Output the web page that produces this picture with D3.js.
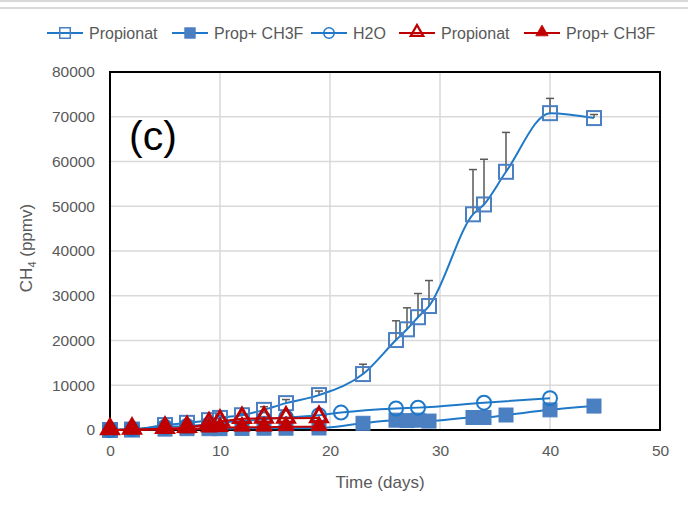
<!DOCTYPE html>
<html>
<head>
<meta charset="utf-8">
<script src="https://cdn.jsdelivr.net/npm/d3@7"></script>
<style>
  body { margin: 0; background: #fff; }
  text { font-family: "Liberation Sans", "DejaVu Sans", sans-serif; }
</style>
</head>
<body>
<svg width="688" height="506"></svg>
<script>
// data
var daysProp = [0, 2, 5, 7, 9, 10, 12, 14, 16, 19, 23, 26, 27, 28, 29, 33, 34, 36, 40, 44];
var propBlue = [0, 100, 1100, 1600, 2200, 2700, 3300, 4500, 6000, 7800, 12500, 20100, 22500, 25200, 27700, 48200, 50400, 57700, 70800, 69700];
var propErr  = [0, 0, 0, 0, 0, 0, 500, 700, 800, 900, 2200, 4300, 4800, 5300, 5700, 10000, 10100, 8800, 3300, 800];

var daysCH3F = [0, 2, 5, 7, 9, 10, 12, 14, 16, 19, 23, 26, 27, 28, 29, 33, 34, 36, 40, 44];
var ch3fBlue = [0, 100, 200, 300, 300, 300, 350, 400, 400, 450, 1500, 2200, 2100, 2200, 2000, 2800, 2800, 3350, 4500, 5350];

var daysH2O = [0, 2, 5, 7, 9, 10, 12, 14, 16, 19, 21, 26, 28, 34, 40];
var h2o     = [0, 200, 700, 900, 1300, 1600, 2000, 2400, 2800, 3300, 3900, 4800, 5000, 6100, 7100];

var daysRed = [0, 2, 5, 7, 9, 10, 12, 14, 16, 19];
var propRed = [0, 100, 300, 500, 1300, 1900, 2500, 2600, 2600, 2700];
var ch3fRed = [0, 0, 100, 200, 400, 500, 600, 600, 700, 700];

var xTicks = [0, 10, 20, 30, 40, 50];
var yTicks = [0, 10000, 20000, 30000, 40000, 50000, 60000, 70000, 80000];
var legendNames = ["Propionat", "Prop+ CH3F", "H2O", "Propionat", "Prop+ CH3F"];

var svg = d3.select("svg");
var margin = {top: 72, right: 28, bottom: 76, left: 110};
var width = +svg.attr("width") - margin.left - margin.right;
var height = +svg.attr("height") - margin.top - margin.bottom;

var blueLine = "#1f78c8", blueMark = "#4a7fc1", red = "#c00000", grey = "#595959";

// chart area border bits at top
svg.append("line").attr("x1", 0).attr("x2", 688).attr("y1", 1).attr("y2", 1).attr("stroke", "#d9d9d9").attr("stroke-width", 2);
svg.append("line").attr("x1", 0).attr("x2", 688).attr("y1", 8).attr("y2", 8).attr("stroke", "#d9d9d9").attr("stroke-width", 2);

var g = svg.append("g").attr("transform", "translate(" + margin.left + "," + margin.top + ")");

var x = d3.scaleLinear().domain([0, 50]).range([0, width]);
var y = d3.scaleLinear().domain([0, 80000]).range([height, 0]);

// grid
g.selectAll(".hg").data(yTicks).enter().append("line")
  .attr("x1", 0).attr("x2", width)
  .attr("y1", function(d) { return y(d); }).attr("y2", function(d) { return y(d); })
  .attr("stroke", "#d9d9d9").attr("stroke-width", 1.5);
g.selectAll(".vg").data(xTicks).enter().append("line")
  .attr("y1", 0).attr("y2", height)
  .attr("x1", function(d) { return x(d); }).attr("x2", function(d) { return x(d); })
  .attr("stroke", "#d9d9d9").attr("stroke-width", 1.5);

// axes
var xAxis = g.append("g").attr("transform", "translate(0," + height + ")")
  .call(d3.axisBottom(x).tickValues(xTicks).tickSize(0).tickPadding(15));
var yAxis = g.append("g")
  .call(d3.axisLeft(y).tickValues(yTicks).tickSize(0).tickPadding(15).tickFormat(d3.format("d")));
[xAxis, yAxis].forEach(function(a) {
  a.select(".domain").remove();
  a.selectAll("text").attr("fill", grey).style("font-size", "15.5px")
    .style("font-family", "'Liberation Sans', sans-serif");
});

// frame
g.append("rect").attr("width", width).attr("height", height)
  .attr("fill", "none").attr("stroke", "#000").attr("stroke-width", 2);

// axis titles
g.append("text")
  .attr("x", width / 2 - 5).attr("y", height + 58)
  .attr("text-anchor", "middle").attr("fill", grey).style("font-size", "17px")
  .text("Time (days)");

var yt = svg.append("text")
  .attr("transform", "translate(32," + (margin.top + height / 2 - 3) + ") rotate(-90)")
  .attr("text-anchor", "middle").attr("fill", grey).style("font-size", "17px");
yt.append("tspan").text("CH");
yt.append("tspan").attr("dy", 4).style("font-size", "11px").text("4");
yt.append("tspan").attr("dy", -4).text(" (ppmv)");

g.append("text").attr("x", 19).attr("y", 78)
  .style("font-size", "41px").attr("fill", "#000").text("(c)");

function pts(xs, ys) { return xs.map(function(d, i) { return [d, ys[i]]; }); }

var smooth = d3.line().curve(d3.curveMonotoneX)
  .x(function(d) { return x(d[0]); }).y(function(d) { return y(d[1]); });
var straight = d3.line()
  .x(function(d) { return x(d[0]); }).y(function(d) { return y(d[1]); });

function drawSeries(data, lineGen, color, marker) {
  g.append("path").datum(data).attr("d", lineGen)
    .attr("fill", "none").attr("stroke", color).attr("stroke-width", 2);
  var m = g.append("g");
  data.forEach(function(d) { marker(m, x(d[0]), y(d[1])); });
}

function openSquare(sel, cx, cy) {
  sel.append("rect").attr("x", cx - 7).attr("y", cy - 7).attr("width", 14).attr("height", 14)
    .attr("fill", "none").attr("stroke", blueMark).attr("stroke-width", 2);
}
function fillSquare(sel, cx, cy) {
  sel.append("rect").attr("x", cx - 7).attr("y", cy - 7).attr("width", 14).attr("height", 14)
    .attr("fill", blueMark).attr("stroke", blueMark).attr("stroke-width", 1);
}
function openCircle(sel, cx, cy) {
  sel.append("circle").attr("cx", cx).attr("cy", cy).attr("r", 7)
    .attr("fill", "none").attr("stroke", blueLine).attr("stroke-width", 2);
}
var tri = d3.symbol().type(d3.symbolTriangle).size(120);
function openTri(sel, cx, cy) {
  sel.append("path").attr("d", tri).attr("transform", "translate(" + cx + "," + (cy - 1) + ")")
    .attr("fill", "none").attr("stroke", red).attr("stroke-width", 3);
}
function fillTri(sel, cx, cy) {
  sel.append("path").attr("d", tri).attr("transform", "translate(" + cx + "," + (cy - 1) + ")")
    .attr("fill", red).attr("stroke", red).attr("stroke-width", 1);
}

// error bars (plus only)
var eb = g.append("g").attr("stroke", grey).attr("stroke-width", 1.5);
daysProp.forEach(function(d, i) {
  if (!propErr[i]) return;
  var top = y(propBlue[i] + propErr[i]);
  eb.append("line").attr("x1", x(d)).attr("x2", x(d)).attr("y1", y(propBlue[i])).attr("y2", top);
  eb.append("line").attr("x1", x(d) - 4).attr("x2", x(d) + 4).attr("y1", top).attr("y2", top);
});

drawSeries(pts(daysProp, propBlue), smooth, blueLine, openSquare);
drawSeries(pts(daysCH3F, ch3fBlue), smooth, blueLine, fillSquare);
drawSeries(pts(daysH2O, h2o), smooth, blueLine, openCircle);
drawSeries(pts(daysRed, propRed), straight, red, openTri);
drawSeries(pts(daysRed, ch3fRed), straight, red, fillTri);

// legend
var legendX = [47, 172, 311, 399, 524];
var legendColor = [blueLine, blueLine, blueLine, red, red];
var legendMarker = [openSquare, fillSquare, openCircle, openTri, fillTri];
var lg = svg.append("g");
legendNames.forEach(function(name, i) {
  var lx = legendX[i], ly = 33;
  lg.append("line").attr("x1", lx).attr("x2", lx + 36).attr("y1", ly).attr("y2", ly)
    .attr("stroke", legendColor[i]).attr("stroke-width", 2);
  var m = lg.append("g").attr("transform", "translate(" + (lx + 18) + "," + ly + ") scale(0.75) translate(" + (-(lx + 18)) + "," + (-ly) + ")");
  legendMarker[i](m, lx + 18, ly);
  lg.append("text").attr("x", lx + 42).attr("y", ly + 5.5)
    .attr("fill", grey).style("font-size", "16px").text(name);
});
</script>
</body>
</html>
